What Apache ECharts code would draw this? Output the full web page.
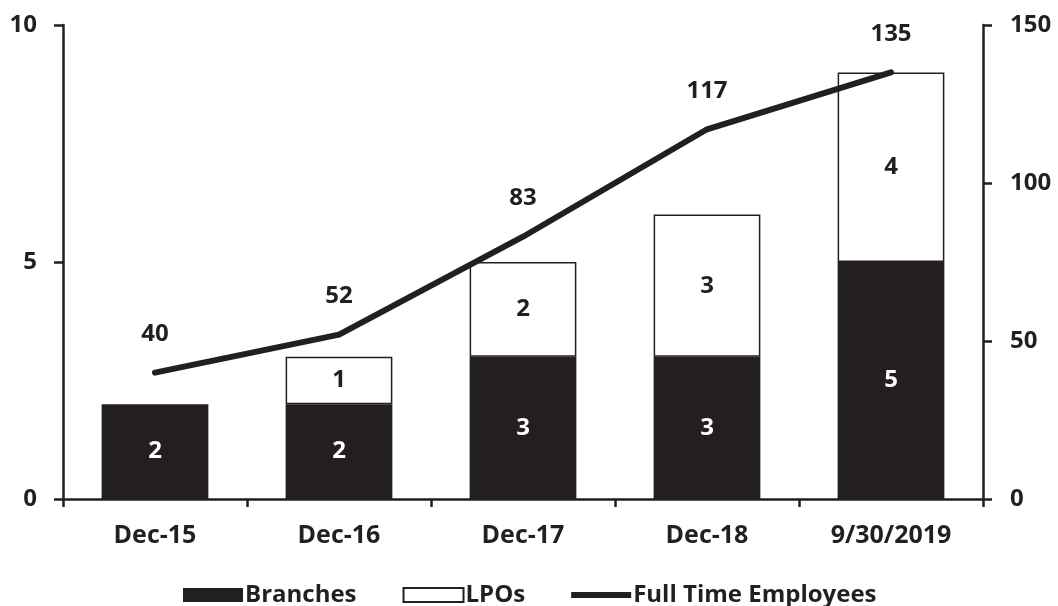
<!DOCTYPE html>
<html>
<head>
<meta charset="utf-8">
<script src="https://cdn.jsdelivr.net/npm/echarts@6/dist/echarts.min.js"></script>
<style>
  html, body { margin: 0; padding: 0; background: #fff; }
  #chart { width: 1058px; height: 606px; }
</style>
</head>
<body>
<div id="chart"></div>
<script>
const categories = ['Dec-15', 'Dec-16', 'Dec-17', 'Dec-18', '9/30/2019']
const branches = [2, 2, 3, 3, 5]
const lpos = [null, 1, 2, 3, 4]
const employees = [40, 52, 83, 117, 135]
const leftTicks = { min: 0, max: 10, interval: 5 }
const rightTicks = { min: 0, max: 150, interval: 50 }

const ink = '#231f20'
const font = 'Open Sans'

const myChart = echarts.init(document.getElementById('chart'), null, {
  devicePixelRatio: window.devicePixelRatio
})

const axisStyle = {
  axisLine: { show: true, lineStyle: { color: ink, width: 2.5 } },
  axisTick: { show: true, length: 9, lineStyle: { color: ink, width: 2.5 } },
  splitLine: { show: false },
  axisLabel: {
    color: ink,
    fontFamily: font,
    fontWeight: 'bold',
    fontSize: 24,
    margin: 22
  }
}

const option = {
  animation: false,
  grid: { left: 63, right: 75, top: 25, bottom: 107 },
  legend: {
    left: 178,
    top: 578,
    itemWidth: 60,
    itemHeight: 14,
    itemGap: 46,
    textStyle: { color: ink, fontFamily: font, fontWeight: 'bold', fontSize: 24, padding: [0, 0, 0, -3] },
    data: [
      { name: 'Branches', icon: 'rect' },
      { name: 'LPOs', icon: 'rect' },
      { name: 'Full Time Employees', icon: 'path://M0,0H60V6H0Z' }
    ]
  },
  xAxis: {
    type: 'category',
    data: categories,
    ...axisStyle,
    axisTick: { show: true, length: 8, alignWithLabel: false, lineStyle: { color: ink, width: 2.5 } },
    axisLabel: { ...axisStyle.axisLabel, fontSize: 25, margin: 24 }
  },
  yAxis: [
    {
      type: 'value',
      position: 'left',
      ...leftTicks,
      ...axisStyle,
      axisLabel: { ...axisStyle.axisLabel, margin: 26 }
    },
    {
      type: 'value',
      position: 'right',
      ...rightTicks,
      ...axisStyle,
      axisLabel: { ...axisStyle.axisLabel, margin: 27 }
    }
  ],
  series: [
    {
      name: 'Branches',
      type: 'bar',
      stack: 'total',
      barWidth: '58%',
      data: branches,
      itemStyle: { color: ink },
      label: {
        show: true,
        position: 'inside',
        color: '#ffffff',
        fontFamily: font,
        fontWeight: 'bold',
        fontSize: 24
      }
    },
    {
      name: 'LPOs',
      type: 'bar',
      stack: 'total',
      barWidth: '58%',
      data: lpos,
      itemStyle: { color: '#ffffff', borderColor: ink, borderWidth: 1.5 },
      label: {
        show: true,
        position: 'inside',
        color: ink,
        fontFamily: font,
        fontWeight: 'bold',
        fontSize: 24
      }
    },
    {
      name: 'Full Time Employees',
      type: 'line',
      yAxisIndex: 1,
      data: employees,
      symbol: 'circle',
      symbolSize: 5,
      showSymbol: true,
      z: 5,
      lineStyle: { color: ink, width: 6, cap: 'round' },
      itemStyle: { color: ink },
      label: {
        show: true,
        position: 'top',
        distance: 24,
        color: ink,
        fontFamily: font,
        fontWeight: 'bold',
        fontSize: 24
      }
    }
  ]
}
option && myChart.setOption(option)
</script>
</body>
</html>
